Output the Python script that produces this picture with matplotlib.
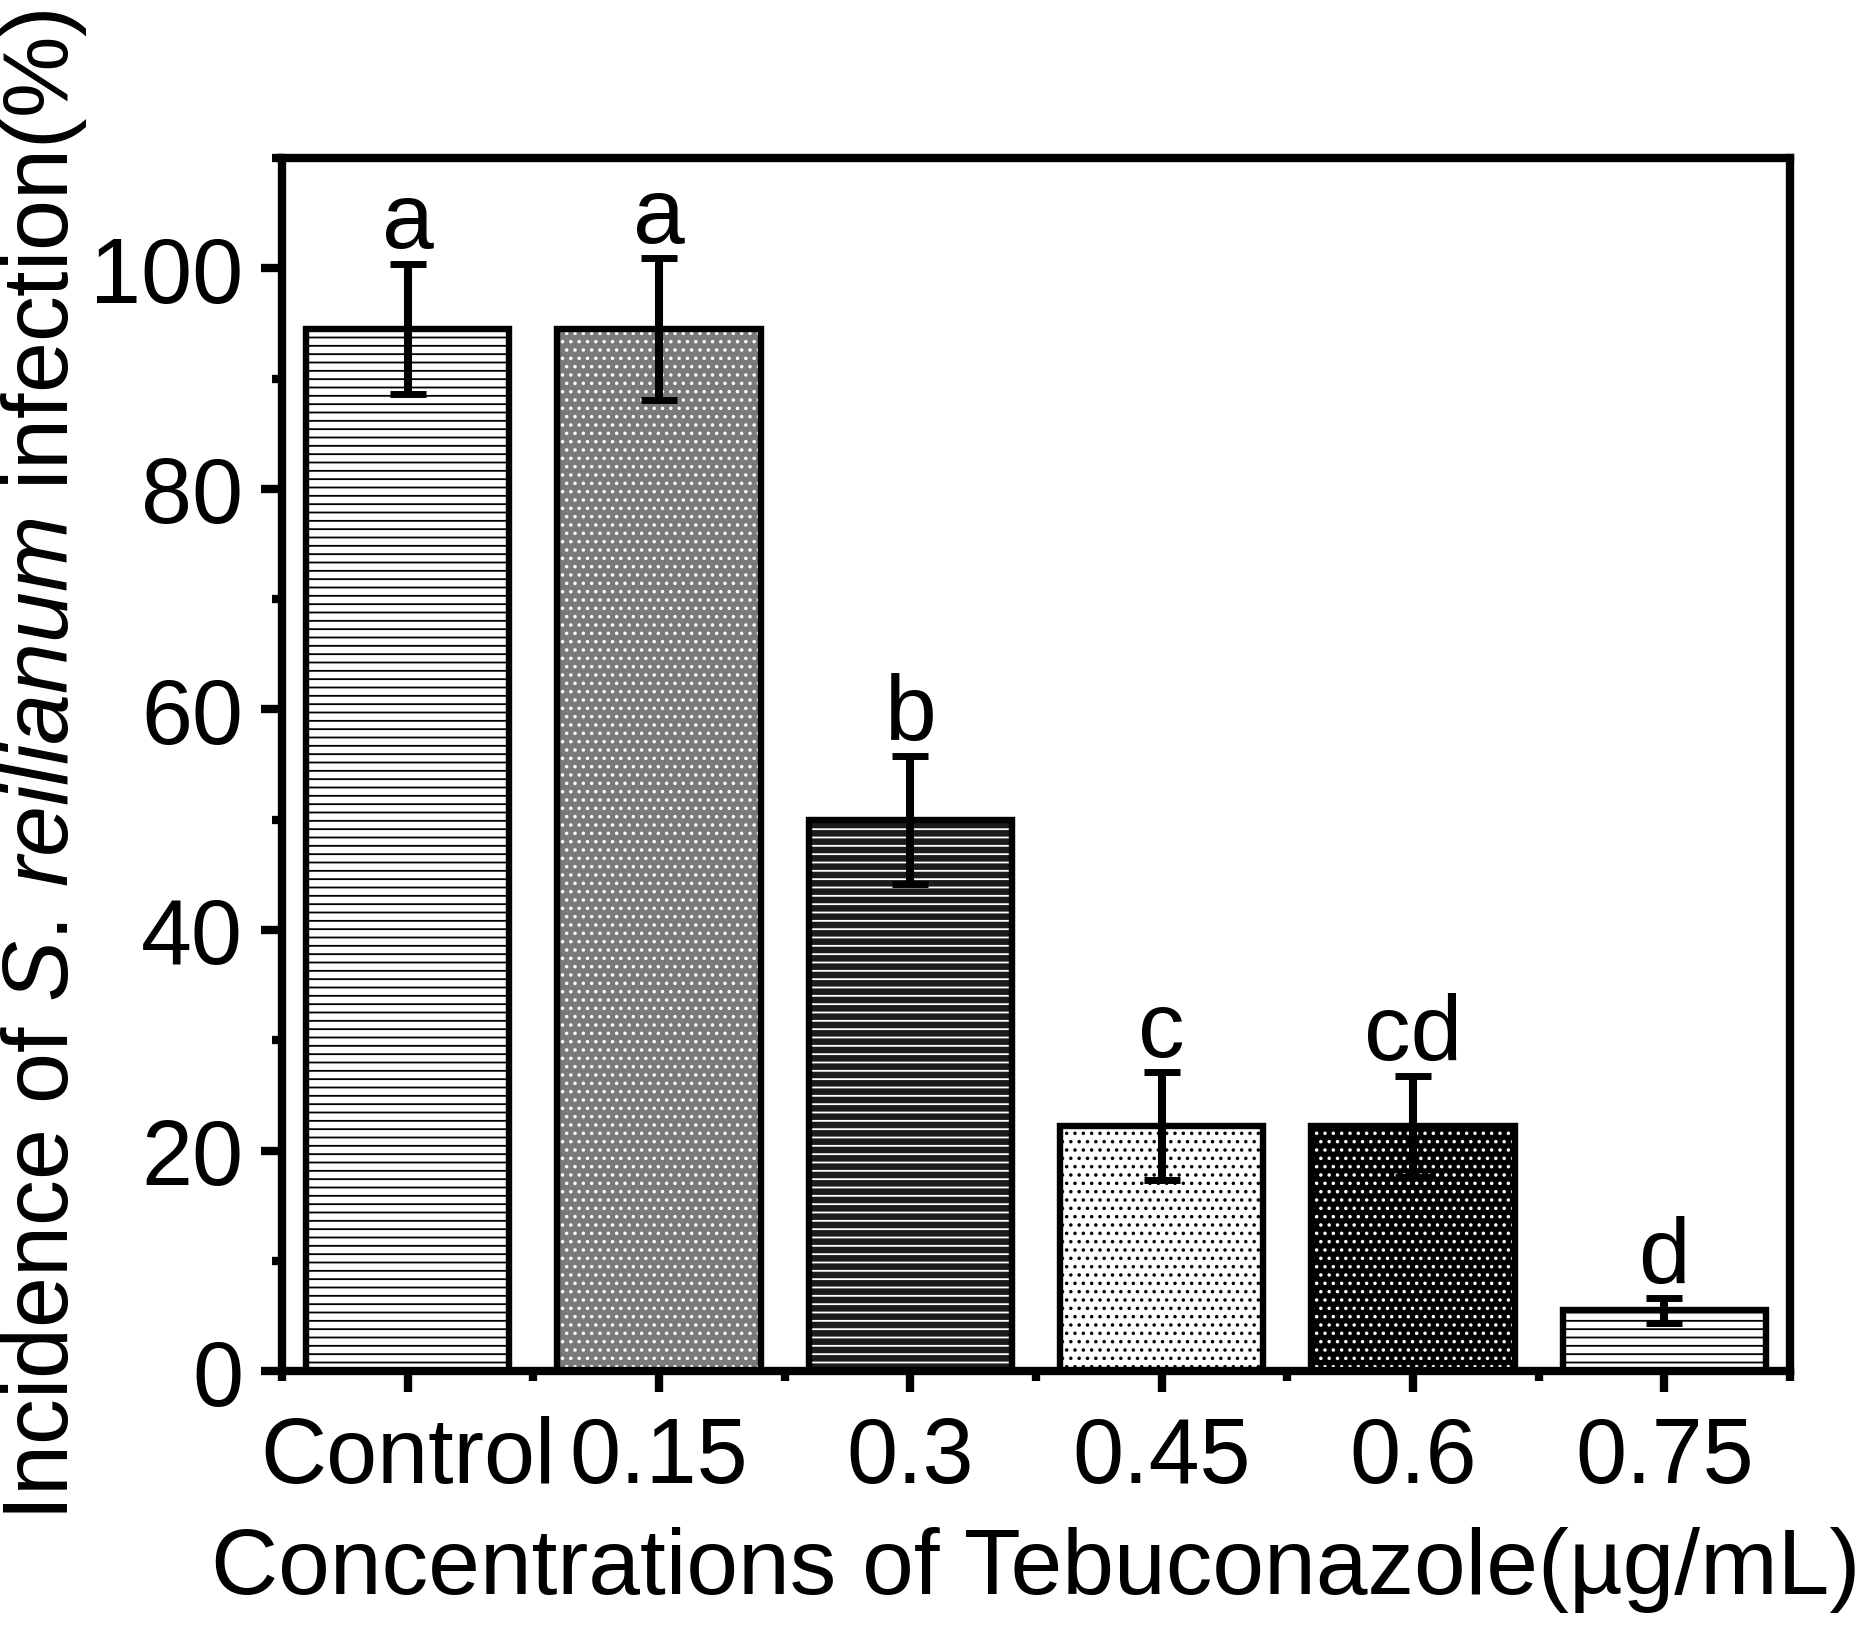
import numpy as np
import matplotlib
matplotlib.use("Agg")
import matplotlib.pyplot as plt
from matplotlib.ticker import MultipleLocator

plt.rcParams['font.family'] = ['Liberation Sans', 'DejaVu Sans']
plt.rcParams['mathtext.fontset'] = 'custom'
plt.rcParams['mathtext.rm'] = 'Liberation Sans'
plt.rcParams['mathtext.it'] = 'Liberation Sans:italic'
plt.rcParams['hatch.linewidth'] = 1.3

# data
groups = ['Control', '0.15', '0.3', '0.45', '0.6', '0.75']
incidence = [94.5, 94.5, 50.0, 22.2, 22.2, 5.5]
err = [5.9, 6.4, 5.8, 4.9, 4.6, 1.1]
letters = ['a', 'a', 'b', 'c', 'cd', 'd']

# fill style per bar (base colour, pattern colour, pattern)
faces = ['white', '#7a7a7a', '#1c1c1c', 'white', 'black', 'white']
patcols = ['black', 'white', 'white', 'black', 'white', 'black']
hatches = ['--', '..', '--', '..', '..', '--']

fig = plt.figure(figsize=(18.7, 16.33), dpi=100)
ax = fig.add_axes([0.1508, 0.1598, 0.8064, 0.7428])

x = np.arange(len(groups))
for i in range(len(groups)):
    ax.bar(x[i], incidence[i], 0.81, color=faces[i], edgecolor=patcols[i],
           hatch=hatches[i], linewidth=0, zorder=2)
ax.bar(x, incidence, 0.81, fill=False, edgecolor='black', linewidth=4.6, zorder=3)
ax.errorbar(x, incidence, yerr=err, fmt='none', ecolor='black', elinewidth=5.8,
            capsize=13, capthick=5, zorder=4)

for i in range(len(groups)):
    ax.text(x[i], incidence[i] + err[i] + 1.5, letters[i], ha='center', va='baseline',
            fontsize=67, zorder=5)

ax.set_xlim(-0.5, 5.5)
ax.set_ylim(0, 110)
ax.set_xticks(x)
ax.set_xticklabels(groups)
ax.set_xticks(np.arange(-0.5, 6.0, 1.0), minor=True)
ax.set_yticks([0, 20, 40, 60, 80, 100])
ax.yaxis.set_minor_locator(MultipleLocator(10))

for s in ax.spines.values():
    s.set_linewidth(6)
ax.tick_params(which='major', direction='out', length=15, width=6, labelsize=66, pad=13)
ax.tick_params(which='minor', direction='out', length=7, width=6)
ax.tick_params(axis='x', which='major', pad=17)

ax.set_xlabel('Concentrations of Tebuconazole(\u00b5g/mL)', fontsize=67, va='top')
ax.xaxis.set_label_coords(0.5, -0.128)
ax.set_ylabel(r'Incidence of $\it{S.\,reilianum}$ infection(%)', fontsize=66, va='center')
ax.yaxis.set_label_coords(-0.158, 0.5)

fig.savefig('out.png', dpi=100)
